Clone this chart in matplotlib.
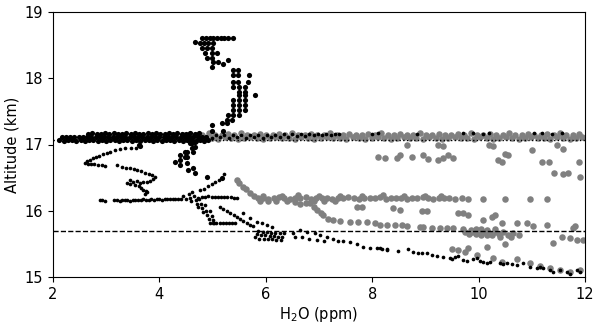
import matplotlib
matplotlib.use('Agg')
import matplotlib.pyplot as plt

# ---- valori (H2O ppm, altitudine km) ----

# banda gri densa de la ~17.1 km, doua randuri
grey_top_x = [4.45, 4.57, 4.69, 4.81, 4.93, 5.05, 5.17, 5.29, 5.41, 5.53,
              5.65, 5.77, 5.89, 6.01, 6.13, 6.25, 6.37, 6.49, 6.61, 6.73,
              6.85, 6.97, 7.09, 7.21, 7.33, 7.45, 7.57, 7.69, 7.81, 7.93,
              8.05, 8.17, 8.29, 8.41, 8.53, 8.65, 8.77, 8.89, 9.01, 9.13,
              9.25, 9.37, 9.49, 9.61, 9.73, 9.85, 9.97, 10.09, 10.21, 10.33,
              10.45, 10.57, 10.69, 10.81, 10.93, 11.05, 11.17, 11.29, 11.41, 11.53,
              11.65, 11.77, 11.89]
grey_top_y = [17.15, 17.16, 17.14, 17.15, 17.17, 17.15, 17.14, 17.16, 17.15, 17.17,
              17.14, 17.15, 17.16, 17.15, 17.14, 17.16, 17.15, 17.17, 17.15, 17.14,
              17.16, 17.15, 17.15, 17.17, 17.14, 17.15, 17.16, 17.15, 17.14, 17.16,
              17.15, 17.17, 17.15, 17.14, 17.16, 17.15, 17.15, 17.17, 17.14, 17.15,
              17.16, 17.15, 17.14, 17.16, 17.15, 17.17, 17.15, 17.14, 17.16, 17.15,
              17.15, 17.17, 17.14, 17.15, 17.16, 17.15, 17.14, 17.16, 17.15, 17.17,
              17.15, 17.14, 17.16]
grey_low_x = [4.51, 4.63, 4.75, 4.87, 4.99, 5.11, 5.23, 5.35, 5.47, 5.59,
              5.71, 5.83, 5.95, 6.07, 6.19, 6.31, 6.43, 6.55, 6.67, 6.79,
              6.91, 7.03, 7.15, 7.27, 7.39, 7.51, 7.63, 7.75, 7.87, 7.99,
              8.11, 8.23, 8.35, 8.47, 8.59, 8.71, 8.83, 8.95, 9.07, 9.19,
              9.31, 9.43, 9.55, 9.67, 9.79, 9.91, 10.03, 10.15, 10.27, 10.39,
              10.51, 10.63, 10.75, 10.87, 10.99, 11.11, 11.23, 11.35, 11.47, 11.59,
              11.71, 11.83, 11.95]
grey_low_y = [17.10, 17.09, 17.11, 17.10, 17.10, 17.09, 17.11, 17.10, 17.09, 17.10,
              17.11, 17.10, 17.09, 17.10, 17.11, 17.10, 17.10, 17.09, 17.11, 17.10,
              17.09, 17.10, 17.11, 17.10, 17.10, 17.09, 17.11, 17.10, 17.09, 17.10,
              17.11, 17.10, 17.09, 17.10, 17.11, 17.10, 17.10, 17.09, 17.11, 17.10,
              17.09, 17.10, 17.11, 17.10, 17.10, 17.09, 17.11, 17.10, 17.09, 17.10,
              17.11, 17.10, 17.09, 17.10, 17.11, 17.10, 17.10, 17.09, 17.11, 17.10,
              17.09, 17.10, 17.11]

# banda gri de la ~16.2 km
grey_mid_x = [5.85, 5.95, 6.05, 6.15, 6.25, 6.35, 6.45, 6.55, 6.65, 6.75,
              6.85, 6.95, 7.05, 7.15, 7.25, 7.35, 7.45, 7.55, 7.65, 7.75,
              7.85, 7.95, 8.05, 8.15, 8.25, 8.35, 8.45, 8.55, 8.65, 8.75,
              8.85, 8.95, 9.05, 9.15, 9.25, 9.35, 9.45]
grey_mid_y = [16.19, 16.20, 16.18, 16.19, 16.21, 16.19, 16.18, 16.20, 16.19, 16.21,
              16.18, 16.19, 16.20, 16.19, 16.18, 16.20, 16.19, 16.21, 16.19, 16.18,
              16.20, 16.19, 16.19, 16.21, 16.18, 16.19, 16.20, 16.19, 16.18, 16.20,
              16.19, 16.21, 16.19, 16.18, 16.20, 16.19, 16.19]

# puncte gri izolate (x, y)
grey_pts = [
    (8.65, 17.0), (9.24, 17.0), (9.33, 16.98), (10.2, 17.0), (10.27, 16.98),
    (11.0, 16.92), (11.47, 17.0), (11.58, 16.93),
    (8.1, 16.81), (8.24, 16.8), (8.47, 16.8), (8.53, 16.84), (8.75, 16.81),
    (8.96, 16.84), (9.05, 16.78), (9.24, 16.77), (9.33, 16.8), (9.42, 16.84),
    (9.52, 16.8), (10.36, 16.77), (10.44, 16.74), (10.5, 16.86), (10.55, 16.84),
    (11.19, 16.74), (11.32, 16.74), (11.89, 16.74),
    (11.42, 16.57), (11.59, 16.55), (11.68, 16.57), (11.9, 16.51),
    (5.46, 16.46), (5.5, 16.42), (5.57, 16.36), (5.62, 16.33), (5.7, 16.27), (5.78, 16.22),
    (5.9, 16.15), (6.05, 16.14), (6.2, 16.15), (6.4, 16.15), (6.55, 16.13),
    (6.65, 16.1), (6.75, 16.12), (6.9, 16.14), (7.1, 16.15), (7.3, 16.15),
    (5.95, 16.23), (6.3, 16.23), (6.6, 16.24), (7.0, 16.23), (7.4, 16.23),
    (7.8, 16.23), (8.2, 16.24), (8.6, 16.23), (9.0, 16.23), (9.3, 16.22),
    (9.56, 16.17), (9.68, 16.19), (9.8, 16.18), (10.08, 16.17), (10.5, 16.17),
    (10.97, 16.18), (11.29, 16.17),
    (7.71, 16.06), (7.81, 16.06), (8.4, 16.04), (8.52, 16.01), (8.94, 16.0),
    (9.03, 16.0), (9.61, 15.97), (9.7, 15.97), (9.8, 15.94),
    (6.83, 16.12), (6.9, 16.06), (6.96, 16.01), (7.03, 15.96), (7.07, 15.94),
    (7.16, 15.88), (7.26, 15.86), (7.4, 15.84), (7.58, 15.83), (7.73, 15.83),
    (7.9, 15.83), (8.05, 15.82), (8.15, 15.78), (8.28, 15.78), (8.43, 15.78),
    (8.56, 15.78), (8.65, 15.77), (8.9, 15.75), (8.96, 15.75), (9.12, 15.74),
    (9.27, 15.74), (9.4, 15.74), (9.52, 15.74), (9.71, 15.72),
    (10.08, 15.86), (10.25, 15.91), (10.31, 15.94), (10.44, 15.82), (10.72, 15.82),
    (10.91, 15.82), (11.02, 15.77), (11.29, 15.79), (11.81, 15.77), (11.77, 15.74),
    (9.75, 15.68), (9.82, 15.65), (9.88, 15.68), (9.95, 15.65), (10.0, 15.69),
    (10.05, 15.64), (10.1, 15.68), (10.15, 15.63), (10.2, 15.67), (10.25, 15.64),
    (10.3, 15.68), (10.38, 15.65), (10.45, 15.68), (10.55, 15.64), (10.65, 15.66),
    (10.75, 15.63), (9.85, 15.71), (9.95, 15.72), (10.05, 15.72), (10.15, 15.71),
    (10.3, 15.72), (10.4, 15.6), (10.6, 15.6),
    (11.4, 15.51), (11.57, 15.6), (11.72, 15.59), (11.85, 15.56), (11.96, 15.56),
    (9.5, 15.42), (9.61, 15.41), (9.74, 15.38), (9.8, 15.44), (9.97, 15.33),
    (10.16, 15.45), (10.27, 15.29), (10.44, 15.23), (10.5, 15.5), (10.72, 15.27),
    (10.97, 15.21), (11.15, 15.17), (11.34, 15.14), (11.53, 15.11), (11.72, 15.08),
    (11.91, 15.11),
]

# banda neagra groasa de la ~17.1 km (puncte mari)
band_x1 = [2.12, 2.2, 2.28, 2.36, 2.44, 2.52, 2.6, 2.68, 2.76, 2.84,
           2.92, 3.0, 3.08, 3.16, 3.24, 3.32, 3.4, 3.48, 3.56, 3.64,
           3.72, 3.8, 3.88, 3.96, 4.04, 4.12, 4.2, 4.28, 4.36, 4.44,
           4.52, 4.6, 4.68, 4.76, 4.84, 4.92]
band_y1 = [17.07, 17.06, 17.07, 17.07, 17.06, 17.07, 17.06, 17.07, 17.07, 17.06,
           17.07, 17.06, 17.07, 17.07, 17.06, 17.07, 17.07, 17.06, 17.07, 17.06,
           17.07, 17.07, 17.06, 17.07, 17.06, 17.07, 17.07, 17.06, 17.07, 17.06,
           17.07, 17.07, 17.06, 17.07, 17.06, 17.07]
band_x2 = [2.16, 2.24, 2.32, 2.4, 2.48, 2.56, 2.64, 2.72, 2.8, 2.88,
           2.96, 3.04, 3.12, 3.2, 3.28, 3.36, 3.44, 3.52, 3.6, 3.68,
           3.76, 3.84, 3.92, 4.0, 4.08, 4.16, 4.24, 4.32, 4.4, 4.48,
           4.56, 4.64, 4.72, 4.8, 4.88]
band_y2 = [17.11, 17.12, 17.11, 17.11, 17.12, 17.11, 17.12, 17.11, 17.12, 17.11,
           17.11, 17.12, 17.11, 17.11, 17.12, 17.11, 17.12, 17.11, 17.12, 17.11,
           17.11, 17.12, 17.11, 17.11, 17.12, 17.11, 17.12, 17.11, 17.12, 17.11,
           17.11, 17.12, 17.11, 17.12, 17.11]
band_x3 = [2.66, 2.74, 2.82, 2.9, 2.98, 3.06, 3.14, 3.22, 3.3, 3.38,
           3.46, 3.54, 3.62, 3.7, 3.78, 3.86, 3.94, 4.02, 4.1, 4.18,
           4.26, 4.34, 4.42, 4.5, 4.58, 4.66, 4.74]
band_y3 = [17.16, 17.17, 17.16, 17.16, 17.17, 17.16, 17.17, 17.16, 17.16, 17.17,
           17.16, 17.17, 17.16, 17.16, 17.17, 17.16, 17.17, 17.16, 17.16, 17.17,
           17.16, 17.17, 17.16, 17.16, 17.17, 17.16, 17.17]

# puncte negre mari: coloana de sus si grupul de sub banda
big_pts = [
    (4.8, 18.61), (4.88, 18.61), (4.95, 18.61), (5.0, 18.61), (5.08, 18.61),
    (5.16, 18.61), (5.22, 18.61), (5.29, 18.61), (5.38, 18.61), (4.67, 18.55),
    (4.76, 18.53), (4.84, 18.53), (4.91, 18.53), (5.0, 18.53),
    (4.8, 18.46), (4.89, 18.46), (4.99, 18.46),
    (4.86, 18.38), (4.99, 18.38), (5.08, 18.38),
    (4.89, 18.31), (4.99, 18.31),
    (5.0, 18.25), (5.1, 18.25), (5.19, 18.22), (5.29, 18.27), (4.99, 18.17),
    (5.38, 18.12), (5.48, 18.12),
    (5.38, 18.05), (5.48, 18.05), (5.68, 18.05),
    (5.38, 17.94), (5.48, 17.94), (5.66, 17.94),
    (5.38, 17.87), (5.5, 17.87), (5.61, 17.87),
    (5.5, 17.79), (5.61, 17.79),
    (5.5, 17.74), (5.61, 17.74), (5.8, 17.74),
    (5.38, 17.67), (5.5, 17.67), (5.61, 17.67),
    (5.38, 17.6), (5.5, 17.6), (5.61, 17.6),
    (5.38, 17.52), (5.5, 17.52), (5.61, 17.52),
    (5.29, 17.45), (5.38, 17.45), (5.5, 17.45),
    (5.27, 17.37), (5.37, 17.37), (5.18, 17.32), (5.27, 17.32),
    (4.99, 17.29), (4.99, 17.21), (5.2, 17.21),
    (3.62, 17.0), (3.64, 16.97),
    (4.61, 17.02), (4.61, 16.95), (4.52, 16.89), (4.52, 16.81), (4.39, 16.77),
    (4.29, 16.74), (4.39, 16.69), (4.52, 16.72), (4.54, 16.62), (4.63, 16.65),
    (4.67, 16.57), (4.89, 16.51), (5.18, 16.49), (4.48, 16.89), (4.39, 16.84),
    (4.48, 16.81), (4.63, 16.89), (4.67, 17.04), (4.67, 16.96), (4.58, 17.02),
]

# puncte negre mici (traiectoria)
small_pts = [
    # peste banda gri
    (4.98, 17.10), (5.06, 17.14), (5.14, 17.11), (5.22, 17.15), (5.3, 17.10),
    (5.38, 17.14), (5.46, 17.11), (5.54, 17.15), (5.62, 17.10), (5.7, 17.14),
    (5.78, 17.11), (5.86, 17.15), (5.94, 17.10), (6.02, 17.14), (6.1, 17.11),
    (6.18, 17.15), (6.26, 17.12), (6.34, 17.16), (6.42, 17.12), (6.5, 17.16),
    (6.58, 17.13), (6.66, 17.16), (6.74, 17.13), (6.82, 17.16), (6.9, 17.14),
    (6.98, 17.16), (7.06, 17.14), (7.14, 17.16), (7.22, 17.15), (7.3, 17.16),
    (7.38, 17.16), (8.0, 17.16), (8.1, 17.17), (8.84, 17.16), (9.7, 17.17),
    (9.9, 17.17), (10.08, 17.16), (10.2, 17.17), (11.05, 17.18), (11.2, 17.17),
    (11.38, 17.16), (11.57, 17.18),
    # forma in V din stanga
    (2.6, 16.72), (2.66, 16.71), (2.72, 16.7), (2.78, 16.7), (2.85, 16.69),
    (2.92, 16.69), (2.98, 16.68), (2.63, 16.75), (2.69, 16.77), (2.75, 16.79),
    (2.81, 16.81), (2.87, 16.83), (2.94, 16.85), (3.01, 16.87), (3.08, 16.89),
    (3.16, 16.91), (3.26, 16.93), (3.36, 16.94), (3.46, 16.94), (3.56, 16.95),
    (3.2, 16.69), (3.3, 16.66), (3.38, 16.65), (3.45, 16.64), (3.52, 16.63),
    (3.58, 16.62), (3.66, 16.6), (3.73, 16.57), (3.8, 16.55), (3.86, 16.54),
    (3.92, 16.51), (3.88, 16.48), (3.82, 16.45), (3.77, 16.43), (3.7, 16.44),
    (3.64, 16.42), (3.57, 16.45), (3.5, 16.43), (3.44, 16.46), (3.39, 16.42),
    (3.45, 16.4), (3.55, 16.39), (3.62, 16.37), (3.66, 16.34), (3.69, 16.31),
    (3.74, 16.3), (3.77, 16.28), (3.72, 16.26),
    # linia de la 16.16 km
    (2.88, 16.16), (2.93, 16.16), (2.98, 16.15), (3.15, 16.16), (3.2, 16.16),
    (3.25, 16.15), (3.3, 16.16), (3.35, 16.16), (3.4, 16.16), (3.45, 16.15),
    (3.5, 16.16), (3.55, 16.16), (3.6, 16.16), (3.65, 16.16), (3.7, 16.17),
    (3.75, 16.16), (3.8, 16.16), (3.85, 16.17), (3.9, 16.16), (3.95, 16.17),
    (4.0, 16.17), (4.05, 16.16), (4.1, 16.17), (4.15, 16.17), (4.2, 16.18),
    (4.25, 16.17), (4.3, 16.18), (4.35, 16.17), (4.4, 16.18),
    # grupul diagonal
    (4.45, 16.22), (4.5, 16.18), (4.55, 16.25), (4.58, 16.2), (4.6, 16.14),
    (4.65, 16.22), (4.68, 16.16), (4.7, 16.1), (4.72, 16.05), (4.75, 16.18),
    (4.78, 16.1), (4.8, 16.04), (4.82, 15.98), (4.85, 16.08), (4.88, 15.99),
    (4.9, 15.93), (4.93, 15.88), (4.95, 16.0), (4.98, 15.92), (5.0, 15.86),
    (5.03, 15.82), (4.62, 16.28), (4.72, 16.2),
    (4.8, 16.21), (4.86, 16.21), (4.92, 16.22), (4.98, 16.21), (5.04, 16.21),
    (5.1, 16.21), (5.16, 16.21), (5.22, 16.21), (5.28, 16.21), (5.34, 16.21),
    (5.4, 16.2), (5.46, 16.2),
    (4.76, 16.31), (4.84, 16.33), (4.92, 16.37), (4.99, 16.4), (5.05, 16.44),
    (5.12, 16.46), (5.18, 16.5), (5.22, 16.55),
    (4.95, 15.81), (5.01, 15.81), (5.07, 15.81), (5.13, 15.81), (5.19, 15.81),
    (5.25, 15.81), (5.31, 15.82), (5.37, 15.81), (5.43, 15.81),
    # coborarea spre 15 km
    (5.14, 16.06), (5.2, 16.03), (5.27, 16.0), (5.33, 15.97), (5.4, 15.93),
    (5.46, 15.9), (5.52, 15.87), (5.58, 15.84), (5.64, 15.81), (5.7, 15.79),
    (5.76, 15.77), (5.57, 15.97), (5.7, 15.89), (5.83, 15.83), (5.93, 15.82),
    (6.02, 15.78), (6.12, 15.75),
    (5.8, 15.6), (5.83, 15.65), (5.86, 15.7), (5.88, 15.58), (5.91, 15.63),
    (5.94, 15.68), (5.96, 15.58), (5.99, 15.63), (6.02, 15.68), (6.04, 15.57),
    (6.07, 15.62), (6.1, 15.67), (6.12, 15.57), (6.15, 15.62), (6.18, 15.67),
    (6.2, 15.56), (6.23, 15.61), (6.26, 15.66), (6.28, 15.56), (6.31, 15.61),
    (6.34, 15.66),
    (6.51, 15.66), (6.64, 15.71), (6.77, 15.68), (6.92, 15.66), (7.02, 15.63),
    (7.15, 15.6), (7.26, 15.57), (7.35, 15.55), (7.45, 15.54), (7.58, 15.53),
    (7.71, 15.5), (7.83, 15.45), (7.96, 15.44), (8.09, 15.44), (8.18, 15.42),
    (8.28, 15.42), (6.55, 15.61), (6.68, 15.6), (6.82, 15.58), (6.96, 15.56),
    (7.1, 15.54),
    (8.15, 15.44), (8.28, 15.41), (8.49, 15.39), (8.67, 15.42), (8.77, 15.38),
    (8.86, 15.36), (8.94, 15.36), (9.03, 15.36), (9.12, 15.33), (9.22, 15.32),
    (9.33, 15.3), (9.46, 15.29), (9.5, 15.27), (9.56, 15.3), (9.61, 15.32),
    (9.71, 15.26), (9.78, 15.24), (9.89, 15.27), (9.97, 15.29), (10.03, 15.24),
    (10.08, 15.23), (10.16, 15.21), (10.21, 15.23), (10.4, 15.21), (10.46, 15.2),
    (10.53, 15.21), (10.63, 15.2), (10.72, 15.18), (10.83, 15.21), (10.97, 15.15),
    (11.1, 15.14), (11.15, 15.15), (11.21, 15.14), (11.34, 15.11), (11.4, 15.08),
    (11.53, 15.11), (11.66, 15.08), (11.72, 15.05), (11.85, 15.11), (11.91, 15.08),
]

cold_point = 17.07
lrt = 15.7

# ---- desen ----
grey_x = grey_top_x + grey_low_x + grey_mid_x + [p[0] for p in grey_pts]
grey_y = grey_top_y + grey_low_y + grey_mid_y + [p[1] for p in grey_pts]
big_x = band_x1 + band_x2 + band_x3 + [p[0] for p in big_pts]
big_y = band_y1 + band_y2 + band_y3 + [p[1] for p in big_pts]
small_x = [p[0] for p in small_pts]
small_y = [p[1] for p in small_pts]

fig = plt.figure(figsize=(6, 3.24), dpi=100)
ax = fig.add_axes([53 / 600, 47 / 324, 532 / 600, 265 / 324])

ax.scatter(grey_x, grey_y, s=22, c='#808080', linewidths=0, zorder=2)
ax.scatter(big_x, big_y, s=14, c='k', linewidths=0, zorder=3)
ax.scatter(small_x, small_y, s=7, c='k', linewidths=0, zorder=3)

ax.axhline(cold_point, color='k', ls=':', lw=1, zorder=4)
ax.axhline(lrt, color='k', ls='--', lw=1, zorder=4)

ax.set_xlim(2, 12)
ax.set_ylim(15, 19)
ax.set_xticks([2, 4, 6, 8, 10, 12])
ax.set_yticks([15, 16, 17, 18, 19])
ax.tick_params(labelsize=10.5)
ax.set_xlabel('H$_2$O (ppm)', fontsize=10.5, labelpad=2)
ax.set_ylabel('Altitude (km)', fontsize=10.5, labelpad=4)

fig.savefig('out.png', dpi=100)
